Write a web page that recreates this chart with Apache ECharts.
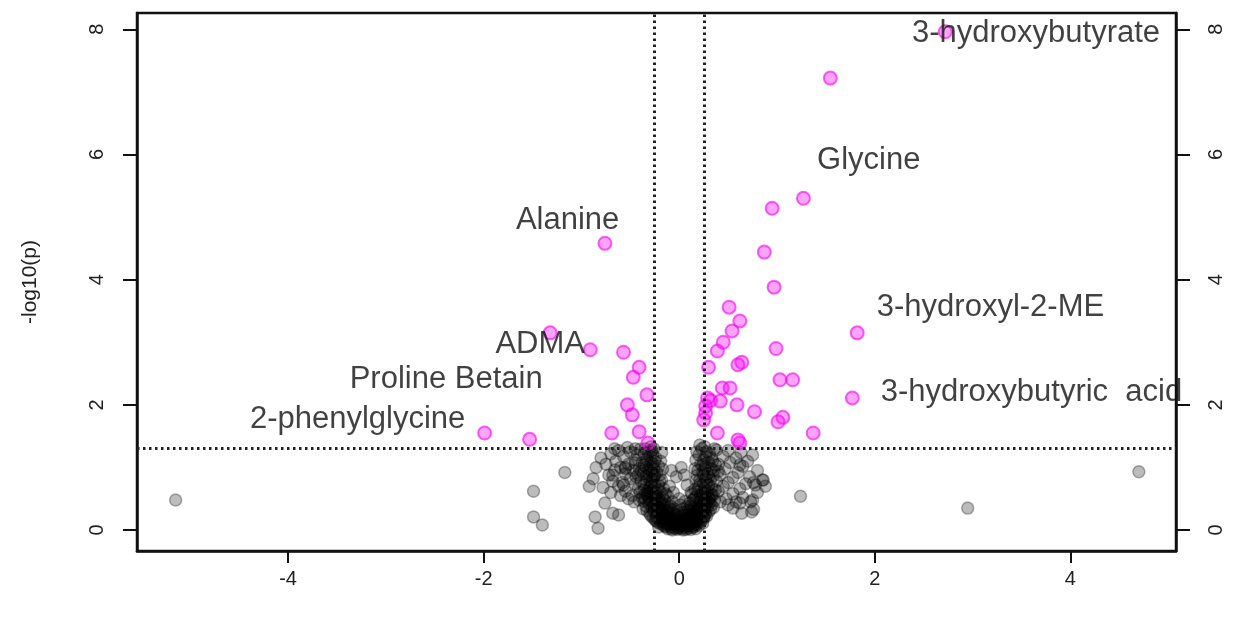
<!DOCTYPE html>
<html>
<head>
<meta charset="utf-8">
<script src="https://cdn.jsdelivr.net/npm/echarts@6/dist/echarts.min.js"></script>
<style>html,body{margin:0;padding:0;background:#fff;}#c{width:1244px;height:618px;}</style>
</head>
<body>
<div id="c"></div>
<script>
var xTicks = [-4, -2, 0, 2, 4];
var yTicks = [0, 2, 4, 6, 8];
var fcThresholds = [-0.263, 0.263];
var pThreshold = 1.301;

var sigPoints = [
  [2.72,7.96],[1.545,7.22],[1.27,5.30],[0.95,5.14],[0.87,4.44],[0.97,3.88],[-0.76,4.58],
  [1.82,3.15],[1.77,2.11],[1.37,1.55],[-1.32,3.15],[-0.91,2.88],[-0.57,2.84],[-1.99,1.55],
  [-1.53,1.45],[-0.69,1.55],[-0.41,2.60],[-0.47,2.44],[-0.33,2.16],[-0.53,2.00],[-0.48,1.84],
  [-0.41,1.57],[-0.32,1.39],[0.51,3.56],[0.62,3.34],[0.54,3.18],[0.45,3.00],[0.39,2.86],
  [0.99,2.90],[0.30,2.60],[0.64,2.68],[0.60,2.64],[1.03,2.40],[1.16,2.40],[0.44,2.27],
  [0.52,2.27],[0.29,2.11],[0.42,2.06],[0.59,2.00],[0.27,1.87],[0.25,1.76],[0.77,1.89],
  [1.06,1.80],[1.01,1.73],[0.39,1.55],[0.60,1.44],[0.62,1.39],[0.27,1.98],[0.32,2.07]
];

var nsPoints = [
  [-0.02,0.01],[0.03,0.02],[0.05,0.04],[-0.05,0.03],[0.08,0.06],[-0.08,0.05],[0.11,0.09],[-0.11,0.08],
  [0.01,0.06],[0.14,0.12],[-0.14,0.11],[0.06,0.1],[-0.06,0.09],[0.17,0.15],[-0.17,0.14],[0.1,0.16],
  [-0.1,0.15],[0.2,0.2],[-0.2,0.18],[0.02,0.12],[-0.03,0.14],[0.13,0.22],[-0.13,0.21],[0.23,0.26],
  [-0.23,0.25],[0.07,0.19],[-0.08,0.2],[0.16,0.28],[-0.18,0.29],[0.26,0.31],[-0.26,0.3],[0.0,0.2],
  [0.04,0.25],[-0.05,0.26],[0.19,0.34],[-0.21,0.35],[0.29,0.37],[-0.28,0.36],[0.11,0.3],[-0.12,0.31],
  [0.24,0.4],[-0.24,0.41],[0.31,0.44],[-0.31,0.43],[0.15,0.37],[-0.16,0.39],[0.09,0.03],[-0.12,0.02],
  [0.15,0.05],[-0.15,0.06],[0.18,0.09],[-0.19,0.1],[0.22,0.13],[-0.22,0.12],[0.25,0.18],[-0.25,0.17],
  [0.28,0.22],[-0.29,0.23],[0.04,0.0],[-0.07,0.0],[0.12,0.01],[0.0,0.09],[-0.01,0.04],[0.06,0.14],
  [-0.09,0.12],[0.27,0.27],[-0.27,0.2],[0.21,0.29],[-0.19,0.24],[0.32,0.33],[-0.33,0.31],[0.33,0.4],
  [-0.34,0.38],[0.36,0.47],[-0.36,0.46],[0.2,0.07],[-0.21,0.05],[0.24,0.11],[-0.02,0.17],[0.03,0.16],
  [0.09,0.24],[-0.1,0.27],[0.14,0.18],[-0.15,0.19],[0.18,0.24],[0.3,0.29],[-0.3,0.26],[0.35,0.36],
  [-0.37,0.34],[0.13,0.04],[-0.04,0.08],[0.07,0.07],[0.26,0.23],[-0.24,0.15],[0.17,0.02],
  [-0.01,0.03],[0.02,0.08],[-0.04,0.11],[0.05,0.13],[-0.07,0.16],[0.08,0.18],[-0.11,0.19],[0.12,0.21],
  [-0.14,0.23],[0.15,0.25],[-0.17,0.27],[0.18,0.3],[-0.2,0.32],[0.21,0.33],[-0.22,0.37],[0.23,0.36],
  [-0.26,0.39],[0.27,0.41],[-0.28,0.44],[0.29,0.45],[-0.3,0.49],[0.31,0.5],[-0.32,0.53],[0.33,0.55],
  [0.0,0.14],[-0.06,0.22],[0.06,0.23],[-0.13,0.28],[0.13,0.29],[-0.18,0.33],[0.17,0.35],[-0.2,0.42],
  [0.2,0.44],[-0.23,0.47],[0.25,0.48],[-0.25,0.52],[0.27,0.53],[0.1,0.11],[-0.1,0.1],[0.16,0.09],
  [-0.16,0.08],[0.19,0.14],[-0.19,0.13],[0.22,0.17],[-0.23,0.2],[0.25,0.21],[-0.08,0.02],[0.07,0.01],
  [-0.13,0.05],[0.14,0.07],
  [-0.05,0.33],[0.04,0.34],[-0.09,0.38],[0.08,0.37],[-0.02,0.3],[0.01,0.4],[-0.12,0.42],[0.11,0.43],
  [-0.07,0.45],[0.06,0.46],[-0.15,0.47],[0.14,0.48],[-0.17,0.52],[0.17,0.53],[-0.14,0.58],[0.13,0.57],
  [-0.19,0.6],[0.19,0.61],[-0.16,0.66],[0.16,0.65],[-0.21,0.71],[0.21,0.73],[-0.18,0.8],[0.17,0.79],
  [-0.2,0.88],[0.18,0.87],[-0.17,0.97],[0.16,0.98],[-0.19,1.1],[0.17,1.12],[-0.18,1.24],[0.18,1.25],
  [0.03,0.28],[-0.03,0.24],[0.09,0.32],[-0.09,0.33],[0.12,0.38],[-0.11,0.36],[0.22,0.47],[-0.21,0.5],
  [0.24,0.55],[-0.27,0.56],[0.29,0.62],[-0.3,0.6],[0.21,0.4],[-0.19,0.45],[0.26,0.36],[-0.25,0.34],
  [-0.38,0.52],[-0.35,0.58],[-0.32,0.62],[-0.4,0.6],[-0.3,0.68],[-0.36,0.72],[-0.42,0.66],[-0.28,0.75],
  [-0.33,0.8],[-0.39,0.78],[-0.45,0.74],[-0.26,0.85],[-0.31,0.88],[-0.37,0.9],[-0.44,0.85],[-0.5,0.82],
  [-0.29,0.95],[-0.34,1.0],[-0.41,0.98],[-0.47,0.95],[-0.55,0.9],[-0.27,1.05],[-0.32,1.1],[-0.38,1.08],
  [-0.45,1.12],[-0.52,1.05],[-0.6,1.0],[-0.3,1.18],[-0.36,1.22],[-0.43,1.2],[-0.5,1.25],[-0.57,1.18],
  [-0.65,1.1],[-0.28,1.27],[-0.4,1.29],[-0.62,1.27],[-0.7,1.22],[-0.48,0.55],[-0.55,0.62],[-0.62,0.7],
  [-0.68,0.78],[-0.72,0.88],[-0.58,0.76],[-0.66,0.96],[-0.75,1.05],[-0.8,1.15],[-0.46,0.45],[-0.41,0.48],
  [-0.52,0.5],[-0.6,0.55],[-0.7,0.6],[-0.78,0.68],[-0.35,0.5],[-0.24,0.55],[-0.22,0.65],[-0.2,0.78],
  [-0.23,0.92],[-0.21,1.02],[-0.24,1.15],[-0.26,1.3],[-0.53,1.32],[-0.45,1.3],[-0.66,1.3],[-0.85,1.0],
  [-0.88,0.82],[-0.92,0.7],[-0.55,0.98],
  [-0.24,0.6],[-0.27,0.64],[-0.25,0.72],[-0.29,0.7],[-0.27,0.82],[-0.3,0.78],[-0.25,0.88],[-0.28,0.92],
  [-0.31,0.97],[-0.26,0.98],[-0.29,1.08],[-0.25,1.1],[-0.33,1.13],[-0.27,1.2],[-0.31,1.25],[-0.35,1.3],
  [-0.29,1.33],[-0.33,0.58],[-0.36,0.64],[-0.34,0.86],[-0.39,0.94],[-0.36,1.04],
  [0.3,0.52],[0.35,0.56],[0.27,0.6],[0.4,0.62],[0.33,0.68],[0.45,0.7],[0.28,0.75],[0.38,0.78],
  [0.5,0.76],[0.3,0.85],[0.42,0.88],[0.55,0.84],[0.24,0.92],[0.35,0.95],[0.47,0.98],[0.6,0.92],
  [0.27,1.02],[0.4,1.05],[0.52,1.08],[0.65,1.02],[0.25,1.12],[0.33,1.15],[0.45,1.18],[0.58,1.15],
  [0.7,1.1],[0.28,1.25],[0.38,1.28],[0.5,1.27],[0.63,1.24],[0.75,1.2],[0.22,0.55],[0.2,0.68],
  [0.21,0.8],[0.19,0.95],[0.22,1.05],[0.2,1.2],[0.23,1.3],[0.48,0.5],[0.55,0.58],[0.62,0.66],
  [0.68,0.74],[0.72,0.85],[0.8,0.95],[0.58,0.45],[0.65,0.52],[0.42,0.45],[0.8,0.6],[0.78,0.72],
  [0.85,0.8],[0.88,0.7],[0.75,0.48],[0.76,0.33],[0.64,0.27],[0.55,0.35],[0.5,0.4],
  [0.24,0.6],[0.26,0.66],[0.25,0.74],[0.3,0.72],[0.27,0.82],[0.32,0.8],[0.25,0.87],[0.29,0.9],
  [0.33,0.98],[0.26,0.97],[0.3,1.08],[0.24,1.04],[0.34,1.1],[0.27,1.17],[0.31,1.22],[0.36,1.3],
  [0.26,1.33],[0.33,0.58],[0.37,0.64],[0.35,0.87],[0.4,0.94],[0.37,1.04],
  [-0.08,0.95],[0.02,1.0],[-0.03,0.85],[0.05,0.88],[-0.1,0.7],[0.08,0.72],[-0.12,0.55],[0.12,0.6],
  [0.0,0.5],[-0.06,0.6],[0.15,0.5],
  [-5.15,0.48],[4.7,0.93],[2.95,0.35],[1.24,0.54],[-1.17,0.92],[-1.49,0.62],[-1.49,0.21],[-1.4,0.08],
  [-0.83,0.03],[-0.86,0.21],[-0.76,0.43],[-0.68,0.27],[-0.62,0.24],[-0.68,0.88],[-0.57,0.72],[-0.55,1.0],
  [-0.45,1.07],[-0.42,0.88],[0.86,0.8],[0.76,0.76],[0.73,0.45],[0.74,0.29],[0.62,0.43],[0.62,1.04],
  [0.21,1.36]
];

var labelNames = ['3-hydroxybutyrate','Glycine','Alanine','3-hydroxyl-2-ME','ADMA','Proline Betain','3-hydroxybutyric  acid','2-phenylglycine'];
var labelX = [2.38, 1.41, -1.67, 2.02, -1.88, -3.37, 2.06, -4.39];
var labelY = [7.94, 5.91, 4.95, 3.55, 2.96, 2.40, 2.20, 1.76];

var labelData = labelNames.map(function(n, i){ return {value:[labelX[i], labelY[i]], name:n}; });

var chart = echarts.init(document.getElementById('c'), null, {renderer:'canvas'});
var font = 'Liberation Sans, Arial, sans-serif';
chart.setOption({
  animation:false,
  backgroundColor:'#fff',
  grid:{left:137, right:68, top:13, bottom:67, show:true, borderColor:'#111', borderWidth:2.5, backgroundColor:'transparent'},
  xAxis:{
    type:'value', min:-5.545, max:5.08,
    axisLine:{show:true, onZero:false, lineStyle:{color:'#111', width:2.5}},
    axisTick:{show:true, length:12, lineStyle:{color:'#111', width:2}, customValues:xTicks},
    axisLabel:{show:true, color:'#222', fontSize:20, fontFamily:font, margin:18, customValues:xTicks},
    splitLine:{show:false}
  },
  yAxis:[{
    type:'value', min:-0.335, max:8.26, position:'left',
    name:'-log10(p)', nameLocation:'middle', nameGap:96, nameRotate:90,
    nameTextStyle:{color:'#222', fontSize:21, fontFamily:font},
    axisLine:{show:true, onZero:false, lineStyle:{color:'#111', width:2.5}},
    axisTick:{show:true, length:14, lineStyle:{color:'#111', width:2}, customValues:yTicks},
    axisLabel:{show:true, rotate:90, color:'#222', fontSize:20, fontFamily:font, margin:30, customValues:yTicks},
    splitLine:{show:false}
  },{
    type:'value', min:-0.335, max:8.26, position:'right',
    axisLine:{show:true, onZero:false, lineStyle:{color:'#111', width:2.5}},
    axisTick:{show:true, length:14, lineStyle:{color:'#111', width:2}, customValues:yTicks},
    axisLabel:{show:true, rotate:90, color:'#222', fontSize:20, fontFamily:font, margin:30, customValues:yTicks},
    splitLine:{show:false}
  }],
  series:[{
    type:'scatter', name:'ns', data:nsPoints, symbolSize:12,
    itemStyle:{color:'rgba(0,0,0,0.33)', borderColor:'rgba(0,0,0,0.38)', borderWidth:1.5},
    z:2,
    markLine:{
      silent:true, symbol:['none','none'], label:{show:false},
      lineStyle:{color:'#222', width:3, type:[2.5,3.5]},
      data:[{xAxis:fcThresholds[0]},{xAxis:fcThresholds[1]},{yAxis:pThreshold}]
    }
  },{
    type:'scatter', name:'sig', data:sigPoints, symbolSize:13,
    itemStyle:{color:'rgba(255,0,255,0.45)', borderColor:'rgba(240,0,240,0.75)', borderWidth:2},
    z:3
  },{
    type:'scatter', name:'labels', data:labelData, symbol:'circle', symbolSize:0, silent:true, z:5,
    label:{show:true, position:'right', distance:0, formatter:'{b}', color:'#111', fontSize:31, fontFamily:font}
  }]
});
</script>
</body>
</html>
